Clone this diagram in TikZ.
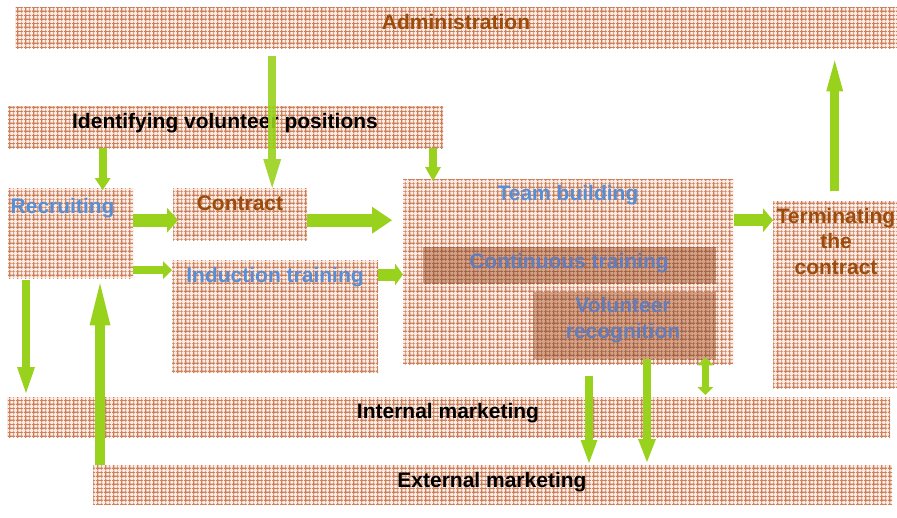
\documentclass[tikz,border=0pt]{standalone}
\usepackage{fontspec}
\setmainfont{Liberation Sans}
\usetikzlibrary{arrows.meta,calc,patterns.meta}

\definecolor{lgreen}{RGB}{153,210,28}
\definecolor{rust}{RGB}{155,76,12}
\definecolor{sky}{RGB}{88,142,214}
\definecolor{dusk}{RGB}{98,124,188}
\definecolor{peach}{RGB}{250,236,228}
\definecolor{brick}{RGB}{204,128,92}
\definecolor{clay}{RGB}{214,160,132}

\tikzdeclarepattern{
  name=plaid,
  type=uncolored,
  bounding box={(0pt,0pt) and (8pt,8pt)},
  tile size={(8pt,8pt)},
  code={
    \draw[line width=1.3pt] (0pt,2pt) -- (8pt,2pt) (2pt,0pt) -- (2pt,8pt);
    \draw[line width=0.7pt] (0pt,6pt) -- (8pt,6pt) (6pt,0pt) -- (6pt,8pt);
  }
}

\begin{document}
\begin{tikzpicture}[x=1pt,y=-1pt]
  \tikzset{box/.style 2 args={preaction={fill=peach}, pattern=plaid, pattern color=brick,
      inner sep=0pt, anchor=north west, minimum width=#1, minimum height=#2},
    inbox/.style 2 args={preaction={fill=clay}, pattern=plaid, pattern color=brick!80!black,
      inner sep=0pt, anchor=north west, minimum width=#1, minimum height=#2},
    lbl/.style={font=\bfseries\fontsize{21}{25.5}\selectfont, inner sep=0pt, align=center},
    arr/.style n args={3}{draw=lgreen, line width=#1,
      -{Triangle[width=#2, length=#3, line width=0pt]}},
    dbl/.style={draw=lgreen, line width=7pt,
      {Triangle[width=16pt, length=8pt, line width=0pt]}-{Triangle[width=16pt, length=8pt, line width=0pt]}}}
  \useasboundingbox (0,0) rectangle (897,517);

  % boxes
  \node[box={882pt}{41pt}] (admin) at (15,7) {};
  \node[box={435pt}{42pt}] (ident) at (8,106) {};
  \node[box={125pt}{90pt}] (recruit) at (8,188) {};
  \node[box={134pt}{52pt}] (contract) at (173,188) {};
  \node[box={206pt}{113pt}] (induct) at (172,260) {};
  \node[box={330pt}{185pt}] (team) at (403,179) {};
  \node[inbox={293pt}{36pt}] (cont) at (423,247) {};
  \node[inbox={183pt}{67pt}] (recog) at (533,292) {};
  \node[box={124pt}{187pt}] (term) at (773,201) {};
  \node[box={883pt}{40pt}] (intm) at (7,397) {};
  \node[box={799pt}{39pt}] (extm) at (93,465) {};

  % texts
  \node[lbl, text=rust, anchor=base] (admin-t) at (456,29) {Administration};
  \node[lbl, anchor=base] (ident-t) at (225,128) {Identifying volunteer positions};
  \node[lbl, text=sky, anchor=base west] (recruit-t) at (10.5,213) {Recruiting};
  \node[lbl, text=rust, anchor=base] (contract-t) at (240,210) {Contract};
  \node[lbl, text=sky, anchor=base] (induct-t) at (275,282) {Induction training};
  \node[lbl, text=sky, anchor=base] (team-t) at (568,200) {Team building};
  \node[lbl, text=dusk, anchor=base] (cont-t) at (569,268) {Continuous training};
  \node[lbl, text=dusk, anchor=north] (recog-t) at (623,297.5) {Volunteer\\recognition};
  \node[lbl, text=rust, anchor=north] (term-t) at (836,208) {Terminating\\the\\contract};
  \node[lbl, anchor=base] (intm-t) at (448,418) {Internal marketing};
  \node[lbl, anchor=base] (extm-t) at (492,487) {External marketing};

  % arrows
  \coordinate (a1) at ([xshift=32pt]contract.north);
  \coordinate (a2) at ([xshift=32pt]recruit.north);
  \coordinate (a3) at ([xshift=30pt]team.north west);
  \coordinate (a4) at ([xshift=5pt,yshift=-6pt]contract.west);
  \coordinate (a5) at ([yshift=-10pt]induct.north west);
  \coordinate (a7) at ([yshift=-14.5pt]induct.north east);
  \coordinate (a8) at ([xshift=18pt]recruit.south west);
  \coordinate (a9) at ([xshift=92pt]recruit.south west);
  \coordinate (a11) at ([xshift=-0.5pt,yshift=10pt]term.north);
  \coordinate (a12) at ([xshift=186pt,yshift=-12pt]team.south west);
  \coordinate (a13) at ([xshift=114pt]recog.south west);
  \coordinate (a14) at ([xshift=-28pt,yshift=7pt]team.south east);
  \draw[arr={8pt}{18pt}{29pt}, opacity=0.9] ($(admin.south -| a1)+(0,-8pt)$) -- (a1);
  \draw[arr={8pt}{16pt}{12pt}] (ident.south -| a2) -- ([yshift=-2pt]a2);
  \draw[arr={8pt}{16pt}{14pt}] (ident.south -| a3) -- ([yshift=-2pt]a3);
  \draw[arr={13pt}{25pt}{11pt}] (recruit.east |- a4) -- (a4);
  \draw[arr={8pt}{18pt}{9pt}] (recruit.east |- a5) -- (a5);
  \draw[arr={13pt}{27pt}{20pt}] (contract.east |- a4) -- ($(team.west |- a4)+(-11pt,0)$);
  \draw[arr={12pt}{22pt}{8pt}] (a7) -- (team.west |- a7);
  \draw[arr={8pt}{18pt}{26pt}] ([yshift=-2pt]a8) -- ($(intm.north -| a8)+(0,4pt)$);
  \draw[arr={10pt}{21pt}{42pt}] (extm.north -| a9) -- ([yshift=-5pt]a9);
  \draw[arr={12pt}{24pt}{10pt}] ($(team.east |- a4)+(1pt,0)$) -- (term.west |- a4);
  \draw[arr={9pt}{17pt}{31pt}] (a11) -- ($(admin.south -| a11)+(0,-12pt)$);
  \draw[arr={8pt}{17pt}{23pt}] (a12) -- ($(extm.north -| a12)+(0,2pt)$);
  \draw[arr={8pt}{18pt}{23pt}] (a13) -- ($(extm.north -| a13)+(0,3pt)$);
  \draw[dbl] (a14) -- ($(intm.north -| a14)+(0,2pt)$);
\end{tikzpicture}
\end{document}
